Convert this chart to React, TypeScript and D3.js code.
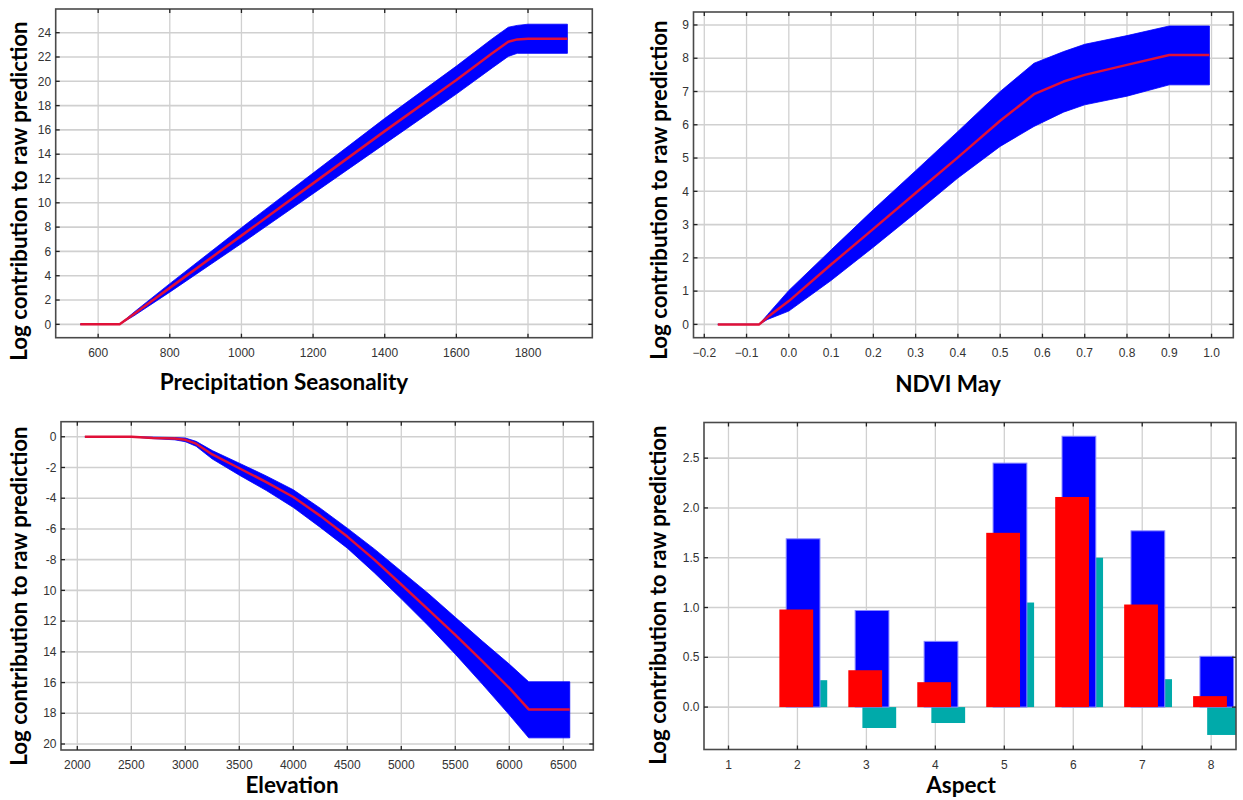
import React from "react";
import * as d3 from "d3";

// ---------- Precipitation Seasonality response ----------
const precipX = [550, 660, 700, 800, 1000, 1200, 1400, 1600, 1700, 1745, 1770, 1800, 1910];
const precipMean = [0, 0, 0.85, 3.0, 7.3, 11.6, 15.9, 20.1, 22.3, 23.25, 23.45, 23.5, 23.5];
const precipUpper = [0, 0, 1.0, 3.35, 7.95, 12.45, 16.95, 21.25, 23.5, 24.45, 24.6, 24.7, 24.7];
const precipLower = [0, 0, 0.7, 2.65, 6.65, 10.75, 14.85, 18.95, 21.1, 22.05, 22.3, 22.3, 22.3];
const precipXTicks = [600, 800, 1000, 1200, 1400, 1600, 1800];
const precipYTicks = [0, 2, 4, 6, 8, 10, 12, 14, 16, 18, 20, 22, 24];

// ---------- NDVI May response ----------
const ndviX = [-0.168, -0.07, -0.05, 0.0, 0.1, 0.2, 0.3, 0.4, 0.5, 0.58, 0.65, 0.7, 0.8, 0.9, 0.995];
const ndviMean = [0, 0, 0.22, 0.7, 1.8, 2.87, 3.95, 5.02, 6.12, 6.92, 7.3, 7.5, 7.8, 8.1, 8.1];
const ndviUpper = [0, 0, 0.3, 1.02, 2.24, 3.45, 4.62, 5.8, 7.0, 7.85, 8.2, 8.42, 8.68, 8.97, 8.97];
const ndviLower = [0, 0, 0.15, 0.4, 1.32, 2.32, 3.35, 4.4, 5.35, 5.95, 6.38, 6.6, 6.86, 7.2, 7.2];
const ndviXTicks = [-0.2, -0.1, 0, 0.1, 0.2, 0.3, 0.4, 0.5, 0.6, 0.7, 0.8, 0.9, 1.0];
const ndviYTicks = [0, 1, 2, 3, 4, 5, 6, 7, 8, 9];

// ---------- Elevation response ----------
const elevX = [2070, 2500, 2700, 2900, 3000, 3100, 3250, 3500, 3750, 4000, 4250, 4500, 4750, 5000, 5250, 5500, 5750, 6000, 6180, 6560];
const elevMean = [0, 0, -0.08, -0.12, -0.2, -0.45, -1.15, -2.05, -2.95, -3.92, -5.15, -6.5, -8.0, -9.62, -11.25, -12.9, -14.6, -16.35, -17.75, -17.75];
const elevUpper = [0, 0, -0.02, -0.05, -0.08, -0.3, -0.9, -1.72, -2.55, -3.45, -4.65, -5.95, -7.3, -8.75, -10.2, -11.75, -13.3, -14.8, -15.95, -15.95];
const elevLower = [0, 0, -0.12, -0.2, -0.32, -0.62, -1.45, -2.5, -3.5, -4.6, -5.9, -7.25, -8.85, -10.55, -12.3, -14.15, -16.1, -18.1, -19.6, -19.6];
const elevXTicks = [2000, 2500, 3000, 3500, 4000, 4500, 5000, 5500, 6000, 6500];
const elevYTicks = [0, -2, -4, -6, -8, -10, -12, -14, -16, -18, -20];
const elevYLabels = ["0", "-2", "-4", "-6", "-8", "10", "12", "14", "16", "18", "20"];

// ---------- Aspect (categorical) response ----------
const aspectCats = [1, 2, 3, 4, 5, 6, 7, 8];
const aspectUpper = [0, 1.69, 0.97, 0.66, 2.45, 2.72, 1.77, 0.51];
const aspectMean = [0, 0.98, 0.37, 0.25, 1.75, 2.11, 1.03, 0.11];
const aspectLower = [0, 0.27, -0.21, -0.16, 1.05, 1.5, 0.28, -0.28];
const aspectYTicks = [0, 0.5, 1.0, 1.5, 2.0, 2.5];

const Y_TITLE = "Log contribution to raw prediction";

const TICK_FONT = "'Liberation Sans', Arial, sans-serif";
const TITLE_FONT = "Lato, 'Open Sans', sans-serif";
const BLUE = "#0000ff";
const RED_LINE = "#e01038";
const RED_BAR = "#ff0000";
const TEAL = "#00aaaa";
const GRID = "#d0d0d0";
const AXIS = "#4a4a4a";

type Box = { left: number; top: number; right: number; bottom: number };

type PanelProps = {
  id: string;
  box: Box;
  x: d3.ScaleLinear<number, number>;
  y: d3.ScaleLinear<number, number>;
  xTicks: number[];
  yTicks: number[];
  xLabels: string[];
  yLabels: string[];
  xTitle: string;
  xTitlePos: [number, number];
  yTitlePos: [number, number];
  children?: React.ReactNode;
};

function Panel(p: PanelProps) {
  const { box, x, y } = p;
  const tl = 4;
  return (
    <g>
      <defs>
        <clipPath id={p.id}>
          <rect x={box.left} y={box.top} width={box.right - box.left} height={box.bottom - box.top} />
        </clipPath>
      </defs>
      {/* grid */}
      {p.xTicks.map((t) => (
        <line key={"gx" + t} x1={x(t)} x2={x(t)} y1={box.top} y2={box.bottom} stroke={GRID} strokeWidth={1.3} />
      ))}
      {p.yTicks.map((t) => (
        <line key={"gy" + t} x1={box.left} x2={box.right} y1={y(t)} y2={y(t)} stroke={GRID} strokeWidth={1.6} />
      ))}
      <g clipPath={`url(#${p.id})`}>{p.children}</g>
      {/* frame */}
      <rect
        x={box.left}
        y={box.top}
        width={box.right - box.left}
        height={box.bottom - box.top}
        fill="none"
        stroke={AXIS}
        strokeWidth={1.6}
      />
      {/* inward ticks on all four sides */}
      {p.xTicks.map((t) => (
        <g key={"tx" + t} stroke="#222" strokeWidth={1.3}>
          <line x1={x(t)} x2={x(t)} y1={box.bottom} y2={box.bottom - tl} />
          <line x1={x(t)} x2={x(t)} y1={box.top} y2={box.top + tl} />
        </g>
      ))}
      {p.yTicks.map((t) => (
        <g key={"ty" + t} stroke="#222" strokeWidth={1.3}>
          <line x1={box.left} x2={box.left + tl} y1={y(t)} y2={y(t)} />
          <line x1={box.right} x2={box.right - tl} y1={y(t)} y2={y(t)} />
        </g>
      ))}
      {/* tick labels */}
      {p.xTicks.map((t, i) => (
        <text
          key={"lx" + t}
          x={x(t)}
          y={box.bottom + 19}
          textAnchor="middle"
          fontFamily={TICK_FONT}
          fontSize={12}
          fill="#333"
        >
          {p.xLabels[i]}
        </text>
      ))}
      {p.yTicks.map((t, i) => (
        <text
          key={"ly" + t}
          x={box.left - 4.5}
          y={y(t)}
          dy="0.35em"
          textAnchor="end"
          fontFamily={TICK_FONT}
          fontSize={12}
          fill="#333"
        >
          {p.yLabels[i]}
        </text>
      ))}
      {/* axis titles */}
      <text
        x={p.xTitlePos[0]}
        y={p.xTitlePos[1]}
        textAnchor="middle"
        fontFamily={TITLE_FONT}
        fontWeight={700}
        fontSize={22.5}
        fill="#000"
      >
        {p.xTitle}
      </text>
      <text
        transform={`translate(${p.yTitlePos[0]},${p.yTitlePos[1]}) rotate(-90)`}
        textAnchor="middle"
        fontFamily={TITLE_FONT}
        fontWeight={700}
        fontSize={22.3}
        fill="#000"
      >
        {Y_TITLE}
      </text>
    </g>
  );
}

function Response({
  x,
  y,
  xs,
  mean,
  upper,
  lower,
}: {
  x: d3.ScaleLinear<number, number>;
  y: d3.ScaleLinear<number, number>;
  xs: number[];
  mean: number[];
  upper: number[];
  lower: number[];
}) {
  const idx = xs.map((_, i) => i);
  const band = d3
    .area<number>()
    .x((i) => x(xs[i]))
    .y0((i) => y(lower[i]))
    .y1((i) => y(upper[i]))(idx);
  const line = d3
    .line<number>()
    .x((i) => x(xs[i]))
    .y((i) => y(mean[i]))(idx);
  return (
    <g>
      <path d={band || ""} fill={BLUE} stroke={BLUE} strokeWidth={0.8} />
      <path d={line || ""} fill="none" stroke={RED_LINE} strokeWidth={2.5} strokeLinejoin="round" />
    </g>
  );
}

const fmt1 = d3.format(".1f");

export default function App() {
  // Precipitation Seasonality
  const b1: Box = { left: 55.7, top: 9, right: 592.3, bottom: 337.7 };
  const x1 = d3.scaleLinear().domain([481.5, 1979.5]).range([b1.left, b1.right]);
  const y1 = d3.scaleLinear().domain([-1.1, 25.95]).range([b1.bottom, b1.top]);

  // NDVI May
  const b2: Box = { left: 693.5, top: 12, right: 1233.3, bottom: 337.7 };
  const x2 = d3.scaleLinear().domain([-0.2255, 1.0515]).range([b2.left, b2.right]);
  const y2 = d3.scaleLinear().domain([-0.4, 9.39]).range([b2.bottom, b2.top]);

  // Elevation
  const b3: Box = { left: 61, top: 421.7, right: 593.3, bottom: 750 };
  const x3 = d3.scaleLinear().domain([1849, 6778]).range([b3.left, b3.right]);
  const y3 = d3.scaleLinear().domain([-20.39, 0.98]).range([b3.bottom, b3.top]);

  // Aspect
  const b4: Box = { left: 704, top: 422.5, right: 1236, bottom: 749.5 };
  const x4 = d3.scaleLinear().domain([0.645, 8.36]).range([b4.left, b4.right]);
  const y4 = d3.scaleLinear().domain([-0.426, 2.858]).range([b4.bottom, b4.top]);

  const barW = 0.49;
  const barSeries = [
    { key: "lower", values: aspectLower, offset: -0.058, fill: TEAL, stroke: "none" },
    { key: "upper", values: aspectUpper, offset: -0.163, fill: BLUE, stroke: "#8a8aff" },
    { key: "mean", values: aspectMean, offset: -0.262, fill: RED_BAR, stroke: "none" },
  ];

  return (
    <div style={{ position: "absolute", left: 0, top: 0, width: 1243, height: 800, background: "#fff" }}>
      <svg width={1243} height={800} viewBox="0 0 1243 800" style={{ display: "block" }}>
        <rect x={0} y={0} width={1243} height={800} fill="#fff" />

        <Panel
          id="clip-precip"
          box={b1}
          x={x1}
          y={y1}
          xTicks={precipXTicks}
          yTicks={precipYTicks}
          xLabels={precipXTicks.map(String)}
          yLabels={precipYTicks.map(String)}
          xTitle="Precipitation Seasonality"
          xTitlePos={[284, 390]}
          yTitlePos={[27, 191]}
        >
          <Response x={x1} y={y1} xs={precipX} mean={precipMean} upper={precipUpper} lower={precipLower} />
        </Panel>

        <Panel
          id="clip-ndvi"
          box={b2}
          x={x2}
          y={y2}
          xTicks={ndviXTicks}
          yTicks={ndviYTicks}
          xLabels={ndviXTicks.map(fmt1)}
          yLabels={ndviYTicks.map(String)}
          xTitle="NDVI May"
          xTitlePos={[948, 392]}
          yTitlePos={[667, 190]}
        >
          <Response x={x2} y={y2} xs={ndviX} mean={ndviMean} upper={ndviUpper} lower={ndviLower} />
        </Panel>

        <Panel
          id="clip-elev"
          box={b3}
          x={x3}
          y={y3}
          xTicks={elevXTicks}
          yTicks={elevYTicks}
          xLabels={elevXTicks.map(String)}
          yLabels={elevYLabels}
          xTitle="Elevation"
          xTitlePos={[292, 793]}
          yTitlePos={[27, 596]}
        >
          <Response x={x3} y={y3} xs={elevX} mean={elevMean} upper={elevUpper} lower={elevLower} />
        </Panel>

        <Panel
          id="clip-aspect"
          box={b4}
          x={x4}
          y={y4}
          xTicks={aspectCats}
          yTicks={aspectYTicks}
          xLabels={aspectCats.map(String)}
          yLabels={aspectYTicks.map(fmt1)}
          xTitle="Aspect"
          xTitlePos={[961, 793]}
          yTitlePos={[666, 595]}
        >
          {barSeries.map((s) =>
            aspectCats.map((c, i) => {
              const v = s.values[i];
              if (v === 0) return null;
              const xa = x4(c + s.offset);
              const xb = x4(c + s.offset + barW);
              const ya = y4(Math.max(v, 0));
              const yb = y4(Math.min(v, 0));
              return (
                <rect
                  key={s.key + c}
                  x={xa}
                  y={ya}
                  width={xb - xa}
                  height={yb - ya}
                  fill={s.fill}
                  stroke={s.stroke}
                  strokeWidth={s.stroke === "none" ? 0 : 1}
                />
              );
            })
          )}
        </Panel>
      </svg>
    </div>
  );
}
